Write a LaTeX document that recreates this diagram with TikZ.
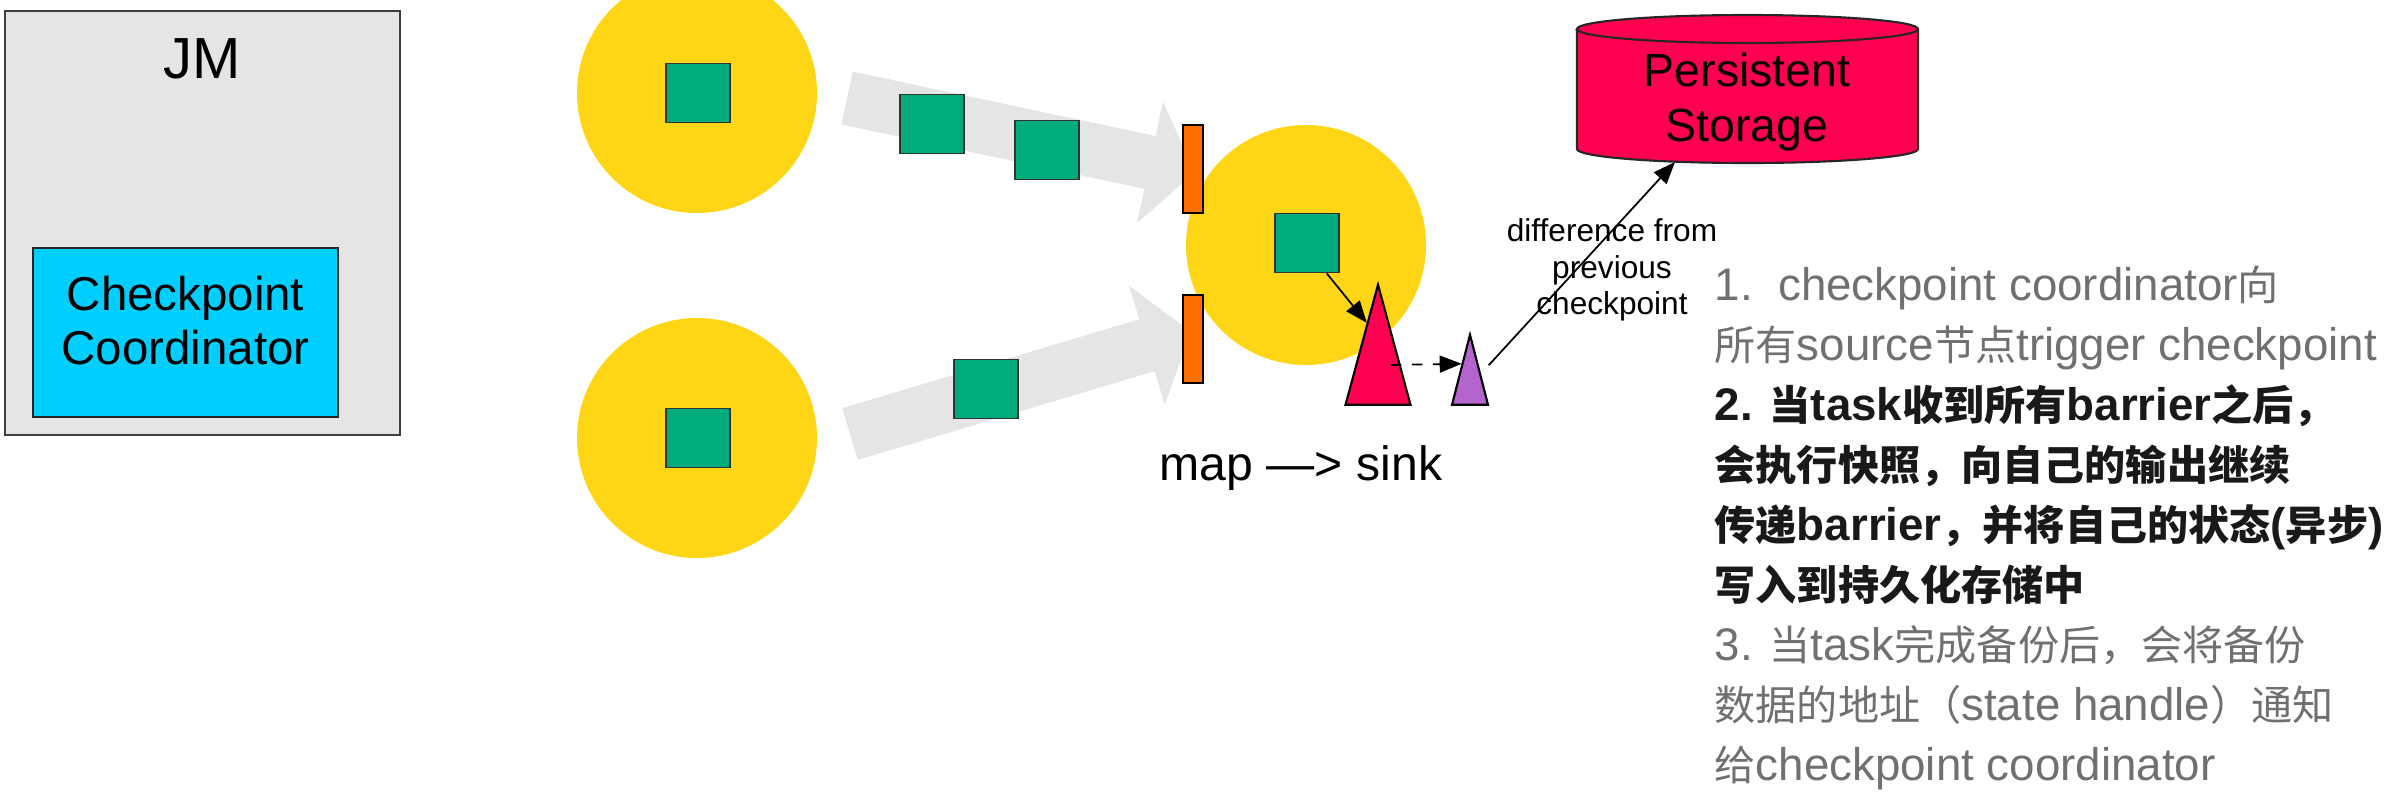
\documentclass[tikz,border=0pt]{standalone}
\usepackage{fontspec}
\setmainfont{Liberation Sans}
\newfontfamily\cjk[Scale=0.9]{Noto Sans CJK SC}
\newcommand\zh[1]{{\cjk #1}}
\usetikzlibrary{calc,arrows.meta,shapes.geometric}
\definecolor{jmgray}{RGB}{229,229,229}
\definecolor{cocyan}{RGB}{0,206,255}
\definecolor{opyellow}{RGB}{255,214,22}
\definecolor{recgreen}{RGB}{0,171,124}
\definecolor{barorange}{RGB}{255,111,0}
\definecolor{storered}{RGB}{255,0,80}
\definecolor{sinkpurple}{RGB}{180,100,205}
\definecolor{notegray}{RGB}{112,112,112}
\tikzset{
  jmbox/.style={draw=black!75,line width=.7pt,fill=jmgray},
  cobox/.style={draw=black!85,line width=.7pt,fill=cocyan},
  op/.style={circle,fill=opyellow,minimum size=2.4cm,inner sep=0pt},
  flow/.style={fill=black!10},
  rec/.style={draw=black!80,line width=.5pt,fill=recgreen,minimum width=.64cm,minimum height=.59cm,inner sep=0pt},
  bar/.style={draw,line width=.6pt,fill=barorange,minimum width=.2cm,minimum height=.88cm,inner sep=0pt},
  tri/.style={isosceles triangle,isosceles triangle stretches,shape border rotate=90,draw,line width=.6pt,inner sep=0pt},
  conn/.style={line width=.5pt,-{Triangle[length=2.2mm,width=1.7mm]}},
  note/.style={text=notegray,font=\fontsize{13}{17}\selectfont},
  noteb/.style={text=black!90,font=\fontsize{13}{17}\selectfont\bfseries}
}

\begin{document}
\begin{tikzpicture}[line join=miter]
\useasboundingbox (0,0) rectangle (23.9,-7.96);
% job manager
\node[jmbox,minimum width=3.95cm,minimum height=4.24cm] (jm) at (2.025,-2.23) {};
\node[font=\fontsize{16.5}{20}\selectfont] (jmname) at (2.02,-0.59) {JM};
\node[cobox,minimum width=3.05cm,minimum height=1.69cm] (coord) at (1.855,-3.325) {};
\node[align=center,font=\fontsize{13.5}{15.6}\selectfont] (coordname) at (1.855,-3.205) {Checkpoint\\Coordinator};
% operators
\node[op] (src1) at (6.97,-0.93) {};
\node[op] (src2) at (6.97,-4.38) {};
\node[op] (map) at (13.06,-2.45) {};
% data flow
\coordinate (ta) at (8.47,-0.98); \coordinate (ha) at (11.95,-1.72);
\coordinate (tb) at (8.50,-4.34); \coordinate (hb) at (11.91,-3.32);
\foreach \t/\h in {ta/ha,tb/hb} {
  \coordinate (fb) at ($(\h)!.46cm!(\t)$);
  \fill[flow] ($(\t)!.27cm!90:(\h)$) -- ($(fb)!.27cm!90:(\h)$) -- ($(fb)!.62cm!90:(\h)$) -- (\h)
    -- ($(fb)!.62cm!-90:(\h)$) -- ($(fb)!.27cm!-90:(\h)$) -- ($(\t)!.27cm!-90:(\h)$) -- cycle;
}
\foreach \n/\x/\y in {s1/6.98/-0.93,s2/6.98/-4.38,r1/9.32/-1.24,r2/10.47/-1.50,r3/9.86/-3.89,msq/13.07/-2.43}
  \node[rec] (\n) at (\x,\y) {};
\node[bar] (bar1) at (11.93,-1.69) {};
\node[bar] (bar2) at (11.93,-3.39) {};
% tasks
\node[tri,fill=storered,minimum width=.65cm,minimum height=1.2cm,anchor=apex] (mapop) at (13.78,-2.82) {};
\node[tri,fill=sinkpurple,minimum width=.36cm,minimum height=.7cm,anchor=apex] (sinkop) at (14.70,-3.32) {};
\node[anchor=base,font=\fontsize{13.7}{16}\selectfont] (chain) at (13.01,-4.80) {map —> sink};
% storage
\filldraw[draw=black!85,line width=.6pt,fill=storered] (15.77,-0.29) -- (15.77,-1.49)
  arc[start angle=180,end angle=360,x radius=1.705,y radius=.14] -- (19.18,-0.29)
  arc[start angle=0,end angle=180,x radius=1.705,y radius=.14] -- cycle;
\draw[black!85,line width=.6pt] (15.77,-0.29) arc[start angle=180,end angle=360,x radius=1.705,y radius=.14];
\node[align=center,font=\fontsize{13.2}{15.6}\selectfont] (store) at (17.47,-1.02) {Persistent\\Storage};
\coordinate (storein) at (16.75,-1.62);
% connectors
\draw[conn] ($(msq.south)!.6!(msq.south east)$) -- ($(mapop.apex)!.33!(mapop.left corner)$);
\draw[conn,dash pattern=on 3pt off 3pt] ($(mapop.apex)!.67!(mapop.right corner)+(-.1,0)$) -- ($(sinkop.apex)!.43!(sinkop.left corner)$);
\draw[conn] ($(sinkop.apex)!.45!(sinkop.right corner)+(.1,0)$) -- (storein);
\node[align=center,font=\fontsize{9}{10.4}\selectfont] (diff) at (16.12,-2.70) {difference from\\previous\\checkpoint};
% steps
\foreach \i/\s/\t in {
  1/note/{1.\ \ checkpoint coordinator\zh{向}},
  2/note/{\zh{所有}source\zh{节点}trigger checkpoint},
  3/noteb/{2. \zh{当}task\zh{收到所有}barrier\zh{之后，}},
  4/noteb/{\zh{会执行快照，向自己的输出继续}},
  5/noteb/{\zh{传递}barrier\zh{，并将自己的状态}(\zh{异步})},
  6/noteb/{\zh{写入到持久化存储中}},
  7/note/{3. \zh{当}task\zh{完成备份后，会将备份}},
  8/note/{\zh{数据的地址（}state handle\zh{）通知}},
  9/note/{\zh{给}checkpoint coordinator}}
  \node[\s,anchor=base west,inner sep=0pt] (step\i) at (17.14,{-3.00-.601*(\i-1)}) {\t};
\end{tikzpicture}
\end{document}
